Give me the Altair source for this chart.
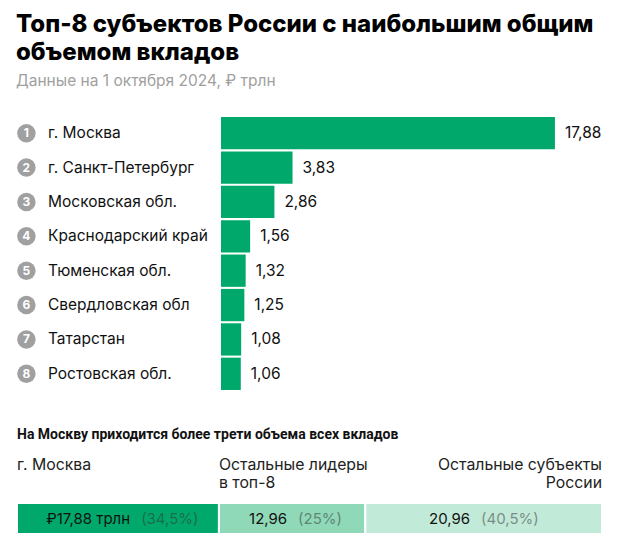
import altair as alt
import pandas as pd

# ---- data ----
ranks = [1, 2, 3, 4, 5, 6, 7, 8]
regions = ["г. Москва", "г. Санкт-Петербург", "Московская обл.", "Краснодарский край",
           "Тюменская обл.", "Свердловская обл", "Татарстан", "Ростовская обл."]
values = [17.88, 3.83, 2.86, 1.56, 1.32, 1.25, 1.08, 1.06]

seg_order = [1, 2, 3]
seg_names = ["г. Москва", "Остальные лидеры\nв топ-8", "Остальные субъекты\nРоссии"]
seg_values = [17.88, 12.96, 20.96]
seg_main = ["₽17,88 трлн", "12,96", "20,96"]
seg_pct = ["(34,5%)", "(25%)", "(40,5%)"]

heading = ["На Москву приходится более трети объема всех вкладов"]

title_lines = ["Топ-8 субъектов России с наибольшим общим", "объемом вкладов"]
subtitle = "Данные на 1 октября 2024, ₽ трлн"

FONT = "Inter"
GREEN = "#00a96b"
seg_colors = [GREEN, "#8fd9b8", "#c2ead9"]

top = pd.DataFrame({"rank": ranks, "region": regions, "value": values})
seg = pd.DataFrame({"seg": seg_order, "name": seg_names, "value": seg_values,
                    "main": seg_main, "pct": seg_pct})

yband = alt.Y("region:N", sort=regions, axis=None,
              scale=alt.Scale(paddingInner=0.06, paddingOuter=0.03))

# ---- left labels panel ----
lab_base = alt.Chart(top).encode(y=yband)
circles = lab_base.mark_point(shape="circle", size=340, filled=True, fill="#a0a0a0",
                              opacity=1, strokeWidth=0).encode(x=alt.value(9.4))
nums = lab_base.mark_text(color="white", fontWeight="bold", fontSize=12, font=FONT).encode(
    x=alt.value(9.4), text="rank:N")
names = lab_base.mark_text(align="left", fontSize=15.5, font=FONT, color="#111").encode(
    x=alt.value(31), text="region:N")
labels_panel = alt.layer(circles, nums, names).properties(width=204, height=275)

# ---- bars panel ----
xs = alt.X("value:Q", axis=None, scale=alt.Scale(domain=[0, 20.4], nice=False))
bar_base = alt.Chart(top).encode(y=yband)
bars = bar_base.mark_bar(color=GREEN).encode(x=xs)
vals = bar_base.transform_calculate(
    lab="replace(format(datum.value, '.2f'), '.', ',')"
).mark_text(align="left", dx=10, fontSize=15.5, font=FONT, color="#111").encode(
    x=xs, text="lab:N")
bars_panel = alt.layer(bars, vals).properties(width=381, height=275)

top_row = alt.hconcat(labels_panel, bars_panel, spacing=0)

# ---- bottom section ----
TOTAL = sum(seg_values)
xb_scale = alt.Scale(domain=[0, TOTAL], nice=False)
seg_base = alt.Chart(seg).transform_window(
    cum="sum(value)", sort=[alt.SortField("seg")], frame=[None, 0]
).transform_calculate(
    x0="datum.cum - datum.value",
    split="datum.cum - datum.value / 2 + (length(datum.main) - length(datum.pct)) * 0.38",
    grp="'all'",
)

head = alt.Chart(pd.DataFrame({"t": heading})).mark_text(
    align="left", baseline="alphabetic", fontSize=14, fontWeight="bold", font="Roboto",
    color="#111"
).encode(x=alt.value(0), y=alt.value(40), text="t:N")

col_left = seg_base.transform_filter("datum.seg < 3").mark_text(
    align="left", baseline="alphabetic", fontSize=15.8, font=FONT, color="#222",
    lineBreak="\n", lineHeight=18
).encode(x=alt.X("x0:Q", axis=None, scale=xb_scale), y=alt.value(71), text="name:N")
col_right = seg_base.transform_filter("datum.seg == 3").mark_text(
    align="right", baseline="alphabetic", fontSize=15.8, font=FONT, color="#222",
    lineBreak="\n", lineHeight=18
).encode(x=alt.X("cum:Q", axis=None, scale=xb_scale), y=alt.value(71), text="name:N")
labels2 = alt.layer(head, col_left, col_right).properties(width=585, height=95)

ygrp = alt.Y("grp:N", axis=None, scale=alt.Scale(paddingInner=0, paddingOuter=0))
seg_bars = seg_base.mark_bar(stroke="white", strokeWidth=2).encode(
    x=alt.X("x0:Q", axis=None, scale=xb_scale),
    x2="cum:Q",
    y=ygrp,
    color=alt.Color("name:N", sort=seg_names,
                    scale=alt.Scale(domain=seg_names, range=seg_colors), legend=None),
)
seg_main_t = seg_base.mark_text(align="right", dx=-5, fontSize=15, font=FONT, color="#111").encode(
    x=alt.X("split:Q", axis=None, scale=xb_scale), y=ygrp, text="main:N")
seg_pct_t = seg_base.mark_text(align="left", dx=6, fontSize=15, font=FONT, color="#333",
                               opacity=0.5).encode(
    x=alt.X("split:Q", axis=None, scale=xb_scale), y=ygrp, text="pct:N")
bottom_bar = alt.layer(seg_bars, seg_main_t, seg_pct_t).properties(width=585, height=31)

chart = alt.vconcat(top_row, labels2, bottom_bar, spacing=8).properties(
    title=alt.TitleParams(
        text=title_lines, subtitle=subtitle, anchor="start",
        font=FONT, fontSize=24, fontWeight=800, lineHeight=28, color="#000",
        subtitleFont=FONT, subtitleFontSize=15.5, subtitleColor="#a0a0a0",
        subtitlePadding=9, offset=27,
    ),
    padding={"left": 8, "top": 4, "right": 4, "bottom": 0},
).configure_view(stroke=None).configure_concat(spacing=8)

chart.save("out.html", embed_options={"renderer": "svg", "actions": False})
